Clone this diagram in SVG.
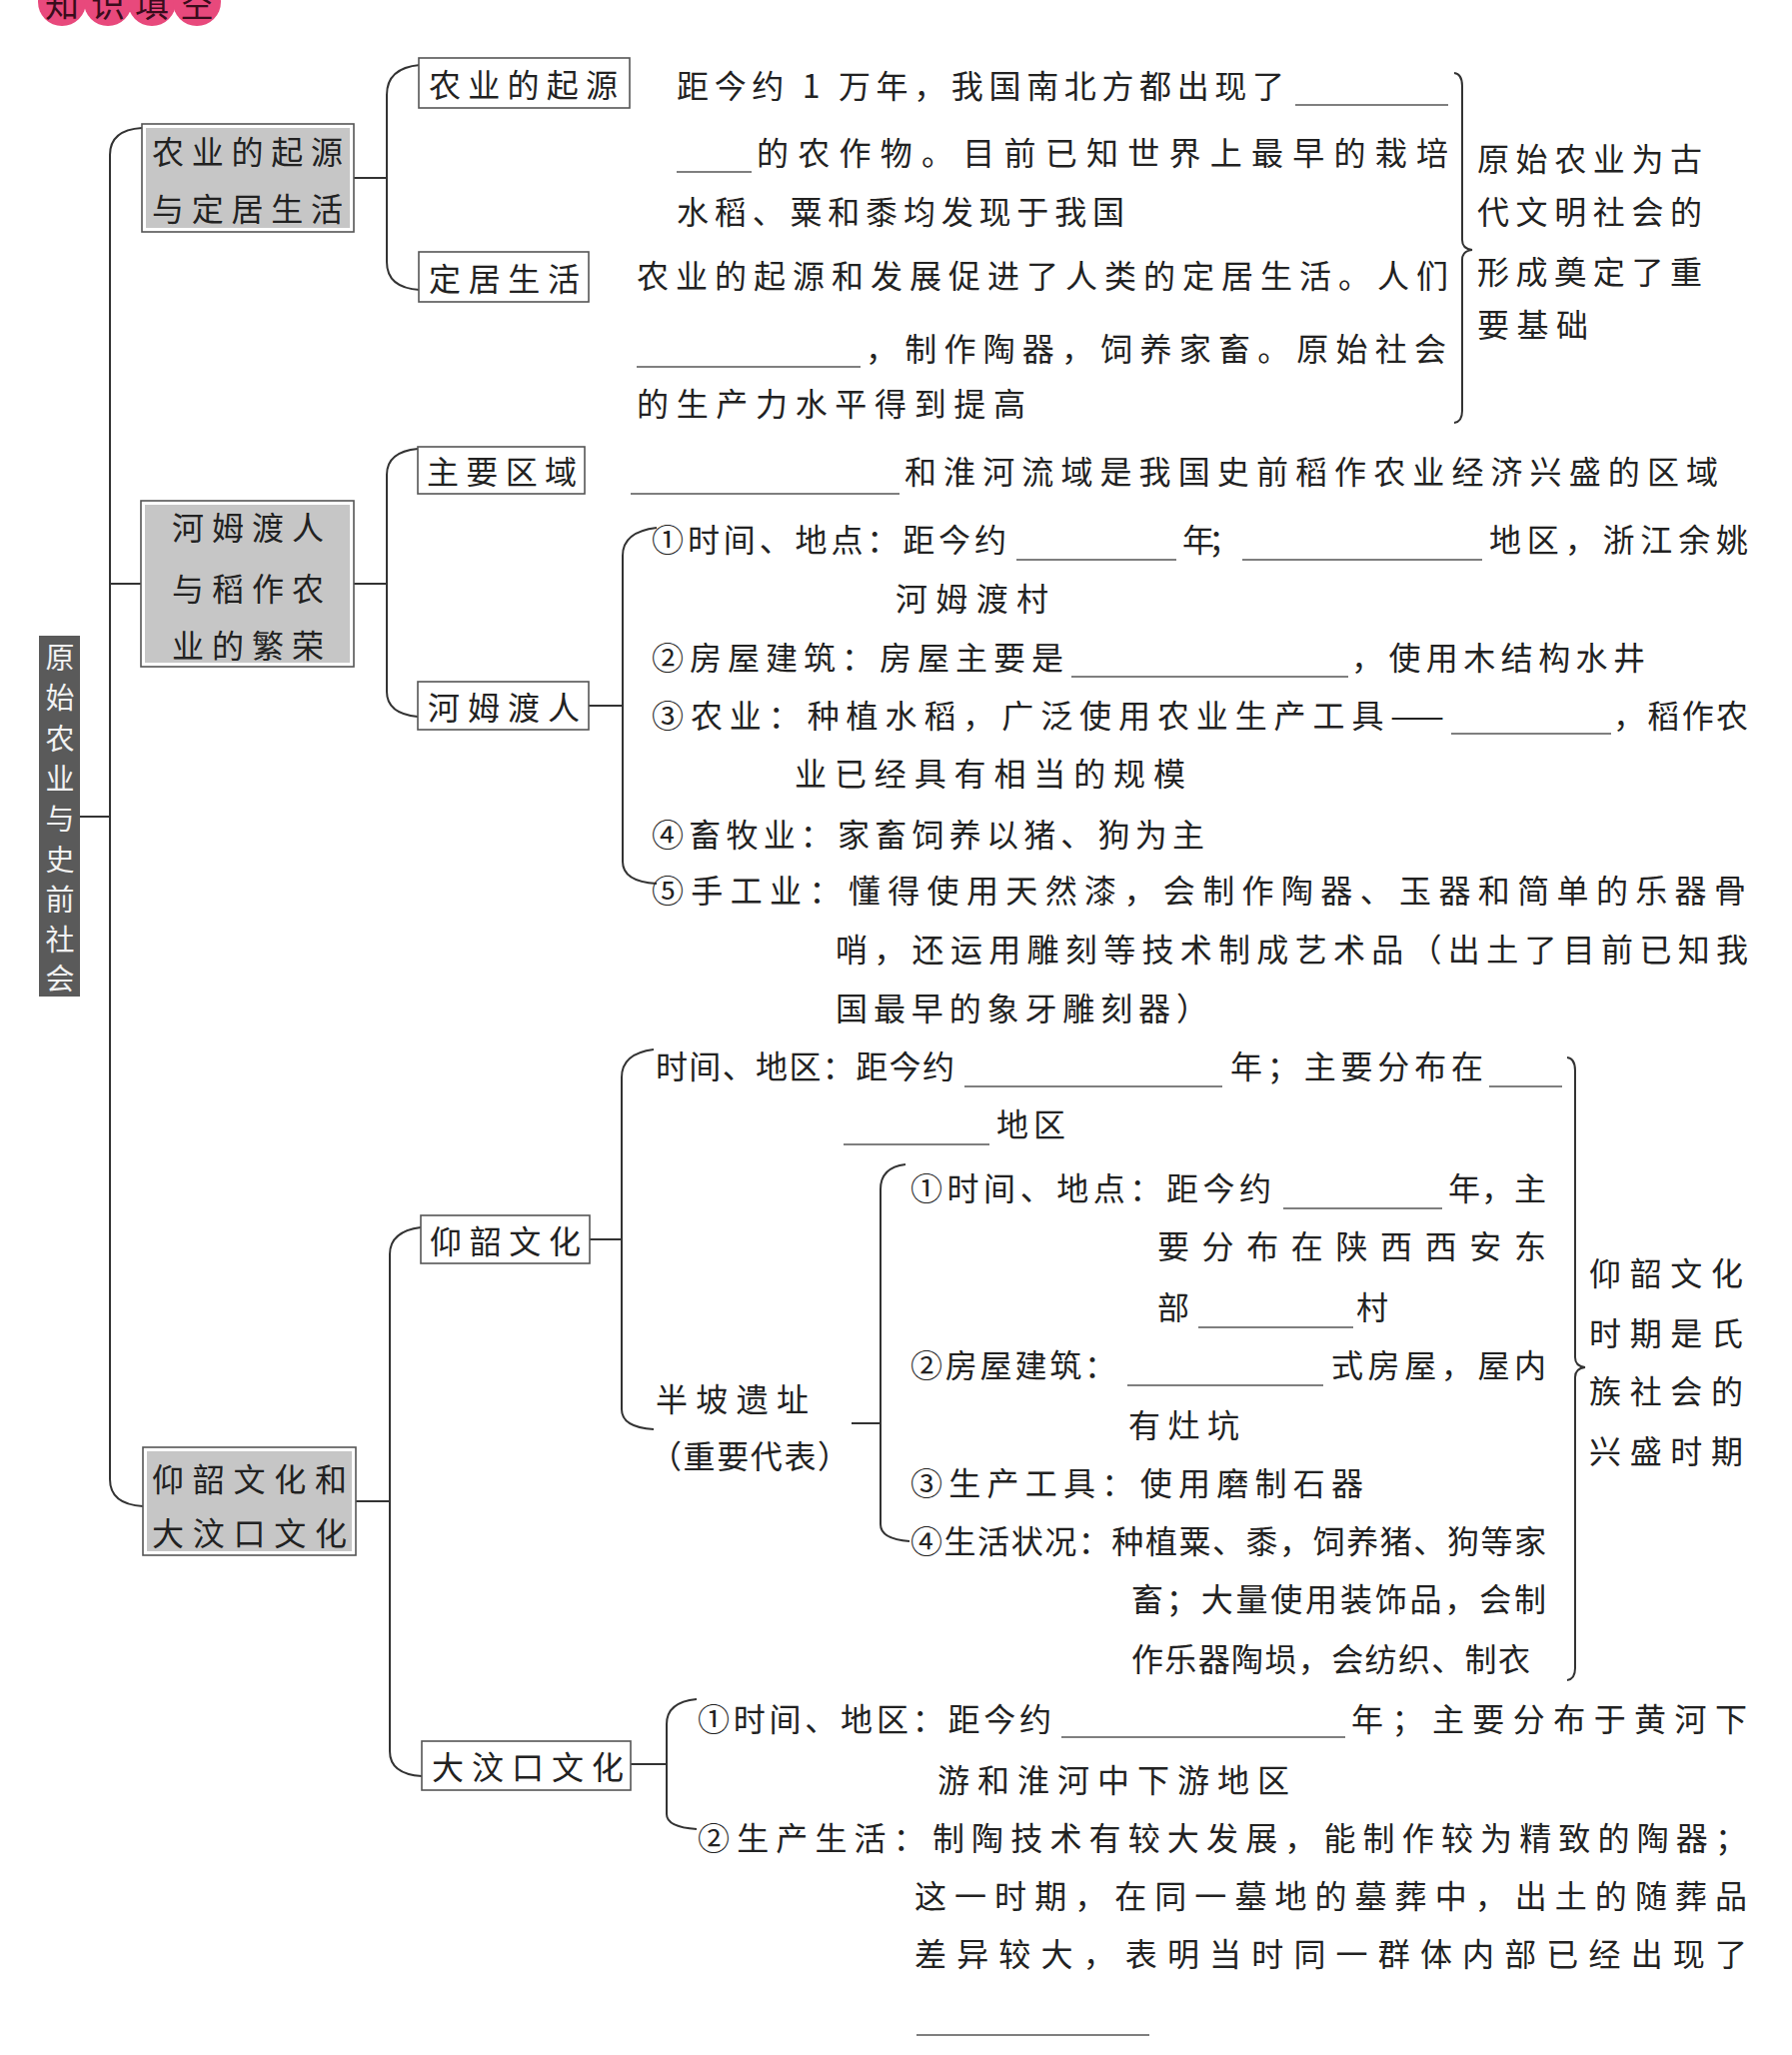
<svg xmlns="http://www.w3.org/2000/svg" width="1793" height="2056" viewBox="0 0 1793 2056">
<style>
.t{font-family:"Noto Sans CJK SC","Noto Sans",sans-serif;font-size:32px;fill:#222;dominant-baseline:central}
.w{fill:#f2f2f2;font-size:29px}
.hd{font-family:"Noto Sans CJK SC","Noto Sans",sans-serif;font-size:34px;fill:#3a0c1c;dominant-baseline:central;text-anchor:middle}
.ln{stroke:#333;stroke-width:2;fill:none}
.bl{stroke:#555;stroke-width:1.6;fill:none}
.b2{fill:#fff;stroke:#555;stroke-width:1.6}
.g1{fill:#fff;stroke:#555;stroke-width:1.6}
.g2{fill:#c6c6c6}
</style>
<rect width="1793" height="2056" fill="#fff"/>
<g id="header">
<circle cx="62" cy="2" r="24" fill="#e8497c"/>
<circle cx="108" cy="2" r="24" fill="#e8497c"/>
<circle cx="152" cy="2" r="24" fill="#e8497c"/>
<circle cx="197" cy="2" r="24" fill="#e8497c"/>
<text class="hd" x="62" y="2">知</text>
<text class="hd" x="108" y="2">识</text>
<text class="hd" x="152" y="2">填</text>
<text class="hd" x="197" y="2">空</text>
</g>
<g id="connectors">
<path class="ln" d="M80,817 H110 M110,584 H142 M142,128 Q110,130 110,155 L110,1480 Q110,1505 143,1507"/>
<path class="ln" d="M354,178 H387 M420,65 Q387,68 387,95 L387,262 Q387,288 420,290"/>
<path class="ln" d="M354,584 H387 M418,449 Q387,452 387,475 L387,692 Q387,714 418,717"/>
<path class="ln" d="M589,706 H623 M657,528 Q623,532 623,556 L623,862 Q623,882 657,884"/>
<path class="ln" d="M355,1502 H390 M421,1228 Q390,1232 390,1255 L390,1752 Q390,1775 422,1777"/>
<path class="ln" d="M590,1240 H622 M654,1050 Q622,1054 622,1078 L622,1410 Q622,1428 654,1430"/>
<path class="ln" d="M852,1424 H881 M906,1165 Q881,1168 881,1190 L881,1525 Q881,1540 910,1542"/>
<path class="ln" d="M631,1765 H667 M697,1700 Q667,1703 667,1725 L667,1815 Q667,1828 697,1830"/>
<path class="ln" d="M1455,73 Q1463,74 1463,86 L1463,240 Q1463,249 1473,250 Q1463,251 1463,260 L1463,411 Q1463,422 1455,423"/>
<path class="ln" d="M1568,1058 Q1576,1059 1576,1071 L1576,1358 Q1576,1367 1586,1368 Q1576,1369 1576,1378 L1576,1669 Q1576,1680 1568,1681"/>
</g>
<g id="root">
<rect x="39" y="636" width="41" height="361" fill="#5a5a5a"/>
<text class="t w" x="60" y="656" text-anchor="middle">原</text>
<text class="t w" x="60" y="696" text-anchor="middle">始</text>
<text class="t w" x="60" y="737" text-anchor="middle">农</text>
<text class="t w" x="60" y="777" text-anchor="middle">业</text>
<text class="t w" x="60" y="817" text-anchor="middle">与</text>
<text class="t w" x="60" y="858" text-anchor="middle">史</text>
<text class="t w" x="60" y="898" text-anchor="middle">前</text>
<text class="t w" x="60" y="938" text-anchor="middle">社</text>
<text class="t w" x="60" y="977" text-anchor="middle">会</text>
</g>
<g id="n1">
<rect class="g1" x="142" y="124" width="212" height="108"/>
<rect class="g2" x="146" y="128" width="204" height="100"/>
<text class="t" x="152" y="150" textLength="191">农业的起源</text>
<text class="t" x="152" y="207" textLength="191">与定居生活</text>
</g>
<g id="n2">
<rect class="g1" x="141" y="501" width="213" height="166"/>
<rect class="g2" x="145" y="505" width="205" height="158"/>
<text class="t" x="172" y="526" textLength="152">河姆渡人</text>
<text class="t" x="172" y="587" textLength="152">与稻作农</text>
<text class="t" x="172" y="644" textLength="152">业的繁荣</text>
</g>
<g id="n3">
<rect class="g1" x="143" y="1448" width="213" height="108"/>
<rect class="g2" x="147" y="1452" width="205" height="100"/>
<text class="t" x="152" y="1478" textLength="195">仰韶文化和</text>
<text class="t" x="152" y="1532" textLength="195">大汶口文化</text>
</g>
<g id="n1a">
<rect class="b2" x="419" y="58" width="211" height="50"/>
<text class="t" x="429" y="83" textLength="189">农业的起源</text>
</g>
<g id="n1a-text">
<text class="t" x="677" y="84" textLength="608">距今约 1 万年，我国南北方都出现了</text>
<line class="bl" x1="1296" y1="105" x2="1449" y2="105"/>
<line class="bl" x1="677" y1="172" x2="752" y2="172"/>
<text class="t" x="757" y="151" textLength="692">的农作物。目前已知世界上最早的栽培</text>
<text class="t" x="677" y="210" textLength="448">水稻、粟和黍均发现于我国</text>
</g>
<g id="n1b">
<rect class="b2" x="419" y="252" width="170" height="50"/>
<text class="t" x="429" y="277" textLength="151">定居生活</text>
</g>
<g id="n1b-text">
<text class="t" x="637" y="274" textLength="812">农业的起源和发展促进了人类的定居生活。人们</text>
<line class="bl" x1="637" y1="367" x2="861" y2="367"/>
<text class="t" x="866" y="347" textLength="581">，制作陶器，饲养家畜。原始社会</text>
<text class="t" x="637" y="402" textLength="389">的生产力水平得到提高</text>
</g>
<g id="s1">
<text class="t" x="1478" y="157" textLength="225">原始农业为古</text>
<text class="t" x="1478" y="210" textLength="225">代文明社会的</text>
<text class="t" x="1478" y="270" textLength="225">形成奠定了重</text>
<text class="t" x="1478" y="323" textLength="111">要基础</text>
</g>
<g id="n2a">
<rect class="b2" x="418" y="447" width="167" height="47"/>
<text class="t" x="427" y="470" textLength="150">主要区域</text>
</g>
<g id="n2a-text">
<line class="bl" x1="631" y1="494" x2="900" y2="494"/>
<text class="t" x="905" y="470" textLength="814">和淮河流域是我国史前稻作农业经济兴盛的区域</text>
</g>
<g id="n2b">
<rect class="b2" x="418" y="682" width="171" height="48"/>
<text class="t" x="428" y="706" textLength="152">河姆渡人</text>
</g>
<g id="n2b-items">
<text class="t" x="652" y="538" textLength="355">①时间、地点：距今约</text>
<line class="bl" x1="1017" y1="560" x2="1177" y2="560"/>
<text class="t" x="1183" y="538" textLength="58">年；</text>
<line class="bl" x1="1243" y1="560" x2="1483" y2="560"/>
<text class="t" x="1490" y="538" textLength="259">地区，浙江余姚</text>
<text class="t" x="896" y="597" textLength="153">河姆渡村</text>
<text class="t" x="652" y="656" textLength="412">②房屋建筑：房屋主要是</text>
<line class="bl" x1="1072" y1="677" x2="1349" y2="677"/>
<text class="t" x="1352" y="656" textLength="294">，使用木结构水井</text>
<text class="t" x="652" y="714" textLength="793">③农业：种植水稻，广泛使用农业生产工具——</text>
<line class="bl" x1="1452" y1="734" x2="1612" y2="734"/>
<text class="t" x="1614" y="714" textLength="135">，稻作农</text>
<text class="t" x="795" y="772" textLength="391">业已经具有相当的规模</text>
<text class="t" x="652" y="833" textLength="553">④畜牧业：家畜饲养以猪、狗为主</text>
<text class="t" x="652" y="889" textLength="1095">⑤手工业：懂得使用天然漆，会制作陶器、玉器和简单的乐器骨</text>
<text class="t" x="836" y="948" textLength="913">哨，还运用雕刻等技术制成艺术品（出土了目前已知我</text>
<text class="t" x="836" y="1007" textLength="373">国最早的象牙雕刻器）</text>
</g>
<g id="n3a">
<rect class="b2" x="421" y="1216" width="169" height="48"/>
<text class="t" x="430" y="1240" textLength="151">仰韶文化</text>
</g>
<g id="n3a-text">
<text class="t" x="656" y="1065" textLength="299">时间、地区：距今约</text>
<line class="bl" x1="965" y1="1087" x2="1223" y2="1087"/>
<text class="t" x="1231" y="1065" textLength="253">年；主要分布在</text>
<line class="bl" x1="1490" y1="1087" x2="1563" y2="1087"/>
<line class="bl" x1="844" y1="1145" x2="990" y2="1145"/>
<text class="t" x="997" y="1123" textLength="69">地区</text>
<text class="t" x="656" y="1398" textLength="153">半坡遗址</text>
<text class="t" x="650" y="1455" textLength="200">（重要代表）</text>
</g>
<g id="n3a-banpo">
<text class="t" x="911" y="1187" textLength="361">①时间、地点：距今约</text>
<line class="bl" x1="1284" y1="1209" x2="1443" y2="1209"/>
<text class="t" x="1449" y="1187" textLength="98">年，主</text>
<text class="t" x="1158" y="1245" textLength="389">要分布在陕西西安东</text>
<text class="t" x="1158" y="1306">部</text>
<line class="bl" x1="1199" y1="1328" x2="1354" y2="1328"/>
<text class="t" x="1357" y="1306">村</text>
<text class="t" x="911" y="1364" textLength="206">②房屋建筑：</text>
<line class="bl" x1="1128" y1="1386" x2="1324" y2="1386"/>
<text class="t" x="1332" y="1364" textLength="215">式房屋，屋内</text>
<text class="t" x="1129" y="1424" textLength="111">有灶坑</text>
<text class="t" x="911" y="1482" textLength="453">③生产工具：使用磨制石器</text>
<text class="t" x="911" y="1540" textLength="636">④生活状况：种植粟、黍，饲养猪、狗等家</text>
<text class="t" x="1132" y="1598" textLength="415">畜；大量使用装饰品，会制</text>
<text class="t" x="1132" y="1658" textLength="399">作乐器陶埙，会纺织、制衣</text>
</g>
<g id="s2">
<text class="t" x="1590" y="1272" textLength="154">仰韶文化</text>
<text class="t" x="1590" y="1332" textLength="154">时期是氏</text>
<text class="t" x="1590" y="1390" textLength="154">族社会的</text>
<text class="t" x="1590" y="1450" textLength="154">兴盛时期</text>
</g>
<g id="n3b">
<rect class="b2" x="422" y="1742" width="209" height="49"/>
<text class="t" x="432" y="1766" textLength="192">大汶口文化</text>
</g>
<g id="n3b-text">
<text class="t" x="698" y="1718" textLength="354">①时间、地区：距今约</text>
<line class="bl" x1="1062" y1="1738" x2="1346" y2="1738"/>
<text class="t" x="1352" y="1718" textLength="396">年；主要分布于黄河下</text>
<text class="t" x="938" y="1779" textLength="352">游和淮河中下游地区</text>
<text class="t" x="698" y="1837" textLength="1050">②生产生活：制陶技术有较大发展，能制作较为精致的陶器；</text>
<text class="t" x="915" y="1895" textLength="833">这一时期，在同一墓地的墓葬中，出土的随葬品</text>
<text class="t" x="915" y="1953" textLength="833">差异较大，表明当时同一群体内部已经出现了</text>
<line class="bl" x1="917" y1="2036" x2="1150" y2="2036"/>
</g>
</svg>
